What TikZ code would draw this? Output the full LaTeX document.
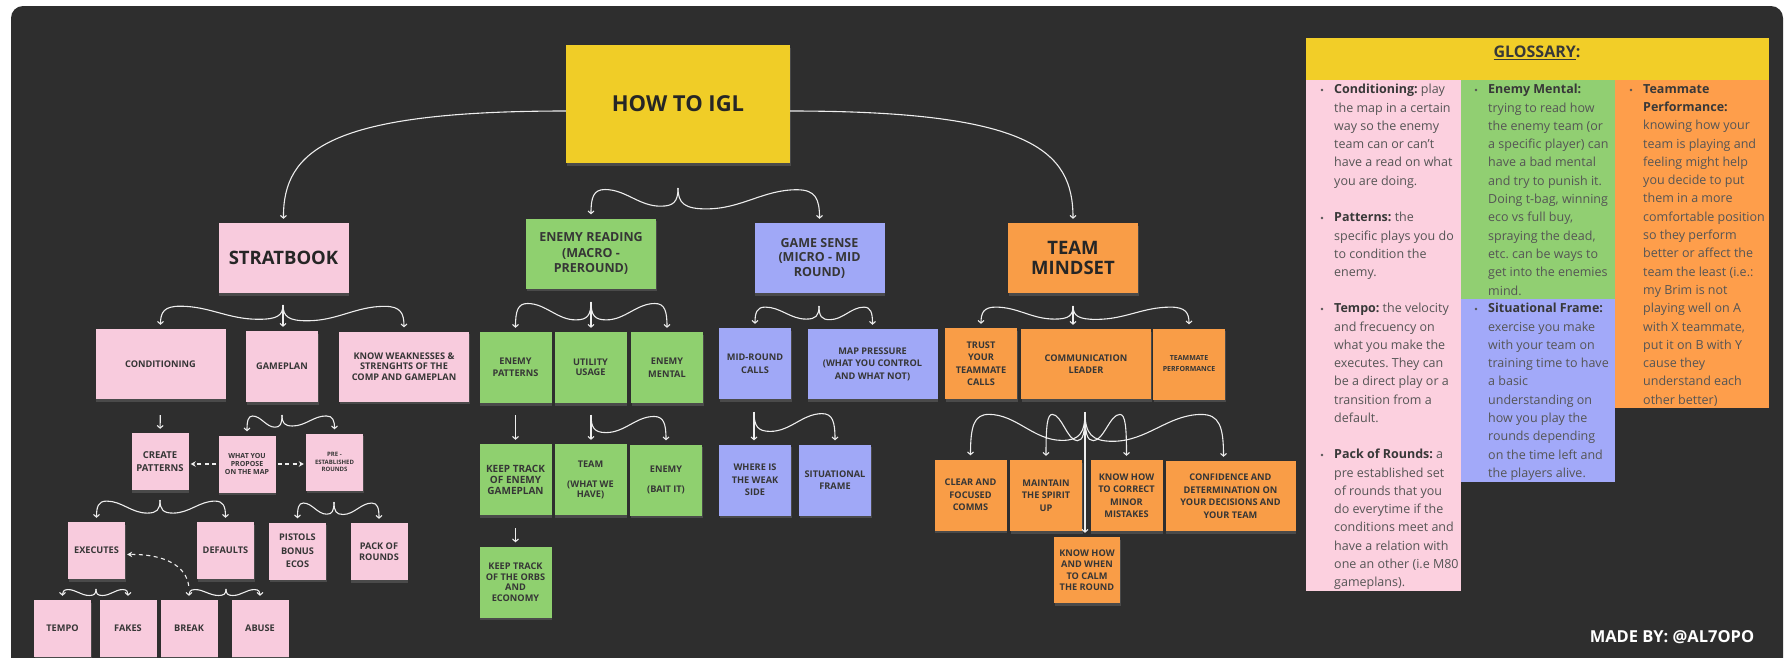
\documentclass[tikz,border=0pt]{standalone}
\usepackage{fontspec}
\setmainfont{Open Sans}
\usetikzlibrary{arrows.meta,calc,shadows}
\frenchspacing

\definecolor{board}{HTML}{2E2E2E}
\definecolor{notepink}{HTML}{F8CBDD}
\definecolor{notegreen}{HTML}{8FD06F}
\definecolor{noteblue}{HTML}{A0A8F7}
\definecolor{noteorange}{HTML}{F99D47}
\definecolor{noteyellow}{HTML}{F0CD27}
\definecolor{notetext}{HTML}{363636}
\definecolor{linkwhite}{HTML}{EEEEEE}
\definecolor{glpink}{HTML}{FCD0DF}
\definecolor{glgreen}{HTML}{91CF72}
\definecolor{glblue}{HTML}{A2A9F9}
\definecolor{glorange}{HTML}{FE9E4B}
\definecolor{glyellow}{HTML}{F2CE28}
\definecolor{gltext}{HTML}{555555}
\definecolor{glhead}{HTML}{383838}

\tikzset{
  note/.style={rectangle, align=center, inner sep=1pt, text=notetext,
    font=\bfseries\fontsize{9.2}{12.5}\selectfont,
    drop shadow={shadow xshift=0.6pt, shadow yshift=-2.5pt, opacity=0.35}},
  pnote/.style={note, fill=notepink},
  gnote/.style={note, fill=notegreen},
  bnote/.style={note, fill=noteblue},
  onote/.style={note, fill=noteorange},
  wide/.style={minimum width=130pt, minimum height=70pt},
  sq/.style={minimum width=72pt, minimum height=71pt},
  small/.style={minimum width=57pt, minimum height=57pt},
  titlefont/.style={font=\bfseries\fontsize{18.5}{20.5}\selectfont, text=black!85},
  headfont/.style={font=\bfseries\fontsize{12.5}{15.5}\selectfont},
  link/.style={draw=linkwhite, line width=1.1pt,
    -{Straight Barb[length=2.6pt,width=6pt]}, shorten >=4pt},
  dlink/.style={draw=linkwhite, line width=1.1pt, dash pattern=on 4pt off 3.5pt,
    -{Stealth[length=5pt,width=5.5pt]}, shorten >=2pt, shorten <=2pt},
  arm/.style={to path={let \p1=(\tikztostart), \p2=(\tikztotarget),
      \n1={\x2-\x1}, \n2={\y1-\y2} in
      .. controls (\x1,{\y1-0.45*(\n2)}) and ({\x1+0.05*(\n1)},{\y1-0.6*(\n2)})
      .. ({\x1+0.2*(\n1)},{\y1-0.6*(\n2)})
      .. controls ({\x1+0.45*(\n1)},{\y1-0.6*(\n2)}) and ({\x1+0.6*(\n1)},{\y1-0.05*(\n2)})
      .. ({\x1+0.84*(\n1)},{\y1-0.05*(\n2)})
      .. controls ({\x1+0.97*(\n1)},{\y1-0.05*(\n2)}) and (\x2,{\y1-0.3*(\n2)})
      .. (\x2,\y2)}},
  gloss/.style={anchor=north west, align=left, inner sep=0pt, text=gltext,
    font=\fontsize{12.5}{18.3}\selectfont},
}

\begin{document}
\begin{tikzpicture}[x=1pt, y=-1pt]
    \useasboundingbox (0,0) rectangle (1785,657);
    \fill[white] (0,0) rectangle (1785,657);
    \fill[board, rounded corners=12pt] (11,6) rectangle (1783,700);

    % title
    \draw (678, 104) node
          [note, fill=noteyellow, minimum width=224pt, minimum height=118pt,
           font=\bfseries\fontsize{22}{26}\selectfont, text=black!85] (how)
          {HOW TO IGL};

    % main branches
    \draw (283.5, 258) node [pnote, wide, titlefont] (strat) {STRATBOOK};
    \draw (591, 253.5) node [gnote, wide, headfont] (er)
          {ENEMY READING\\(MACRO -\\PREROUND)};
    \draw (819.5, 258) node [bnote, wide, headfont,
          font=\bfseries\fontsize{12.5}{14.5}\selectfont] (gs)
          {GAME SENSE\\(MICRO - MID\\ROUND)};
    \draw (1073, 258) node [onote, wide, titlefont] (tm) {TEAM\\MINDSET};

    % second row
    \draw (160.5, 364) node [pnote, wide] (cond) {CONDITIONING};
    \draw (282, 366.5) node [pnote, sq] (gplan) {GAMEPLAN};
    \draw (404, 366.5) node [pnote, wide,
          font=\bfseries\fontsize{9.2}{10.5}\selectfont] (weak)
          {KNOW WEAKNESSES \&\\STRENGHTS OF THE\\COMP AND GAMEPLAN};
    \draw (515.5, 367.5) node [gnote, sq] (epat) {ENEMY\\PATTERNS};
    \draw (590.5, 367.5) node [gnote, sq,
          font=\bfseries\fontsize{9.2}{10.5}\selectfont] (util) {UTILITY\\USAGE};
    \draw (667, 367.5) node [gnote, sq] (emen) {ENEMY\\MENTAL};
    \draw (755, 363.5) node [bnote, sq] (mrc) {MID-ROUND\\CALLS};
    \draw (872.5, 364) node [bnote, wide] (mapp)
          {MAP PRESSURE\\(WHAT YOU CONTROL\\AND WHAT NOT)};
    \draw (981, 363.5) node [onote, sq] (trust) {TRUST\\YOUR\\TEAMMATE\\CALLS};
    \draw (1086, 364) node [onote, wide] (comm) {COMMUNICATION\\LEADER};
    \draw (1189, 364) node [onote, sq,
          font=\bfseries\fontsize{7}{11}\selectfont] (tperf)
          {TEAMMATE\\PERFORMANCE};

    % third row
    \draw (160, 461.5) node [pnote, small,
          font=\bfseries\fontsize{9.5}{13}\selectfont] (cpat) {CREATE\\PATTERNS};
    \draw (247, 464) node [pnote, small,
          font=\bfseries\fontsize{7}{8.2}\selectfont] (wyp)
          {WHAT YOU\\PROPOSE\\ON THE MAP};
    \draw (334.5, 462) node [pnote, small,
          font=\bfseries\fontsize{6}{7.5}\selectfont] (pre)
          {PRE -\\ESTABLISHED\\ROUNDS};
    \draw (515.5, 479.5) node [gnote, sq,
          font=\bfseries\fontsize{10}{11}\selectfont] (ktrack)
          {KEEP TRACK\\OF ENEMY\\GAMEPLAN};
    \draw (590.5, 479.5) node [gnote, sq,
          font=\bfseries\fontsize{9.2}{10}\selectfont] (team)
          {TEAM\\[10pt](WHAT WE\\HAVE)};
    \draw (666, 480) node [gnote, sq,
          font=\bfseries\fontsize{9.2}{10.5}\selectfont] (emy)
          {ENEMY\\[10pt](BAIT IT)};
    \draw (755, 480) node [bnote, sq] (where) {WHERE IS\\THE WEAK\\SIDE};
    \draw (835, 480) node [bnote, sq] (sit) {SITUATIONAL\\FRAME};
    \draw (970.5, 495) node [onote, sq] (clear) {CLEAR AND\\FOCUSED\\COMMS};
    \draw (1046, 495.5) node [onote, sq] (maint) {MAINTAIN\\THE SPIRIT\\UP};
    \draw (1126.5, 495.5) node [onote, sq] (knowc)
          {KNOW HOW\\TO CORRECT\\MINOR\\MISTAKES};
    \draw (1230.5, 496) node [onote, wide] (conf)
          {CONFIDENCE AND\\DETERMINATION ON\\YOUR DECISIONS AND\\YOUR TEAM};
    \draw (1087, 570) node [onote, minimum width=66pt, minimum height=66pt,
          font=\bfseries\fontsize{9.2}{11.5}\selectfont] (calm)
          {KNOW HOW\\AND WHEN\\TO CALM\\THE ROUND};

    % fourth row
    \draw (96.5, 550.5) node [pnote, small] (exe) {EXECUTES};
    \draw (225.5, 550.5) node [pnote, small] (def) {DEFAULTS};
    \draw (297.5, 551) node [pnote, small,
          font=\bfseries\fontsize{9.2}{13.5}\selectfont] (pist)
          {PISTOLS\\BONUS\\ECOS};
    \draw (379, 551.5) node [pnote, small,
          font=\bfseries\fontsize{9.2}{10.5}\selectfont] (pack) {PACK OF\\ROUNDS};
    \draw (515.5, 582) node [gnote, sq,
          font=\bfseries\fontsize{9.2}{10.5}\selectfont] (korbs)
          {KEEP TRACK\\OF THE ORBS\\AND\\ECONOMY};

    % fifth row
    \draw (62.5, 628.5) node [pnote, small] (tempo) {TEMPO};
    \draw (128, 628.5) node [pnote, small] (fakes) {FAKES};
    \draw (189, 628.5) node [pnote, small] (break) {BREAK};
    \draw (260, 628.5) node [pnote, small] (abuse) {ABUSE};

    % brace tops
    \coordinate (how-b) at (678, 188);
    \coordinate (strat-b) at (283, 305);
    \coordinate (er-b) at (591, 302);
    \coordinate (gs-b) at (819, 306);
    \coordinate (tm-b) at (1073, 306);
    \coordinate (gplan-b) at (282, 415);
    \coordinate (cpat-b) at (160, 500);
    \coordinate (pre-b) at (334, 502);
    \coordinate (exe-b) at (96, 589);
    \coordinate (def-b) at (226, 589);
    \coordinate (util-b) at (591, 415);
    \coordinate (mrc-b) at (754, 412);
    \coordinate (comm-b) at (1085, 412);

    % connectors
    \draw[link] ([yshift=-7pt]how.west) .. controls (330,111) and (283,150) .. (strat.north);
    \draw[link] ([yshift=-7pt]how.east) .. controls (1030,111) and (1073,150) .. (tm.north);
    \draw[link, arm] (how-b) to (er.north);
    \draw[link, arm] (how-b) to (gs.north);

    \draw[link, arm] (strat-b) to (cond.north);
    \draw[link] (strat-b) -- (strat-b |- gplan.north);
    \draw[link, arm] (strat-b) to (weak.north);
    \draw[link, shorten <=16pt] (cond) -- (cpat);
    \draw[link, arm] (gplan-b) to (wyp.north);
    \draw[link, arm] (gplan-b) to (pre.north);
    \draw[dlink] (wyp.west) -- (cpat.east |- wyp.west);
    \draw[dlink] (wyp.east) -- (pre.west |- wyp.east);
    \draw[link, arm] (cpat-b) to (exe.north);
    \draw[link, arm] (cpat-b) to (def.north);
    \draw[link, arm] (pre-b) to (pist.north);
    \draw[link, arm] (pre-b) to (pack.north);
    \draw[link, arm] (exe-b) to (tempo.north);
    \draw[link, arm] (exe-b) to (fakes.north);
    \draw[link, arm] (def-b) to (break.north);
    \draw[link, arm] (def-b) to (abuse.north);
    \draw[dlink] ([yshift=12pt]break.north) .. controls (186,566) and (165,554)
          .. ([yshift=-4pt]exe.east);

    \draw[link, arm] (er-b) to (epat.north);
    \draw[link] (er-b) -- (er-b |- util.north);
    \draw[link, arm] (er-b) to (emen.north);
    \draw[link, shorten <=12pt] (epat) -- (ktrack);
    \draw[link, shorten <=13pt] (ktrack) -- (korbs);
    \draw[link] (util-b) -- (util-b |- team.north);
    \draw[link, arm] (util-b) to (emy.north);

    \draw[link, arm] (gs-b) to (mrc.north);
    \draw[link, arm] (gs-b) to (mapp.north);
    \draw[link] (mrc-b) -- (mrc-b |- where.north);
    \draw[link, arm] (mrc-b) to (sit.north);

    \draw[link, arm] (tm-b) to (trust.north);
    \draw[link] (tm-b) -- (tm-b |- comm.north);
    \draw[link, arm] (tm-b) to (tperf.north);
    \draw[link, arm] (comm-b) to (clear.north);
    \draw[link, arm] (comm-b) to (maint.north);
    \draw[link, arm] (comm-b) to (knowc.north);
    \draw[link, arm] (comm-b) to ([xshift=-7pt]conf.north);
    \draw[link] (comm-b) -- (comm-b |- calm.north);

    % glossary
    \fill[glyellow] (1306,38) rectangle (1769,80);
    \fill[glpink] (1306,80) rectangle (1461,591);
    \fill[glgreen] (1461,80) rectangle (1615,299);
    \fill[glblue] (1461,299) rectangle (1615,482);
    \fill[glorange] (1615,80) rectangle (1769,408);
    \draw (1537, 53) node [font=\bfseries\fontsize{16}{18}\selectfont, text=glhead]
          (gl-title) {\underline{GLOSSARY}:};

    \foreach \bx/\by in {1322/90, 1322/218, 1322/309, 1322/455,
                         1476/90, 1476/309, 1631/90}
      \fill[gltext] (\bx,\by) circle (1.3);

    \draw (1334, 84) node [gloss] (g-cond)
          {\textbf{\color{glhead}Conditioning:} play\\the map in a certain\\way so the enemy\\team can or can't\\have a read on what\\you are doing.};
    \draw (1334, 212) node [gloss] (g-pat)
          {\textbf{\color{glhead}Patterns:} the\\specific plays you do\\to condition the\\enemy.};
    \draw (1334, 303) node [gloss] (g-tempo)
          {\textbf{\color{glhead}Tempo:} the velocity\\and frecuency on\\what you make the\\executes. They can\\be a direct play or a\\transition from a\\default.};
    \draw (1334, 449) node [gloss] (g-pack)
          {\textbf{\color{glhead}Pack of Rounds:} a\\pre established set\\of rounds that you\\do everytime if the\\conditions meet and\\have a relation with\\one an other (i.e M80\\gameplans).};
    \draw (1488, 84) node [gloss] (g-mental)
          {\textbf{\color{glhead}Enemy Mental:}\\trying to read how\\the enemy team (or\\a specific player) can\\have a bad mental\\and try to punish it.\\Doing t-bag, winning\\eco vs full buy,\\spraying the dead,\\etc. can be ways to\\get into the enemies\\mind.};
    \draw (1488, 303) node [gloss] (g-frame)
          {\textbf{\color{glhead}Situational Frame:}\\exercise you make\\with your team on\\training time to have\\a basic\\understanding on\\how you play the\\rounds depending\\on the time left and\\the players alive.};
    \draw (1643, 84) node [gloss] (g-perf)
          {\textbf{\color{glhead}Teammate}\\\textbf{\color{glhead}Performance:}\\knowing how your\\team is playing and\\feeling might help\\you decide to put\\them in a more\\comfortable position\\so they perform\\better or affect the\\team the least (i.e.:\\my Brim is not\\playing well on A\\with X teammate,\\put it on B with Y\\cause they\\understand each\\other better)};

    \draw (1672, 637) node [font=\bfseries\fontsize{16.5}{18}\selectfont, text=white]
          (credit) {MADE BY: @AL7OPO};
\end{tikzpicture}
\end{document}
